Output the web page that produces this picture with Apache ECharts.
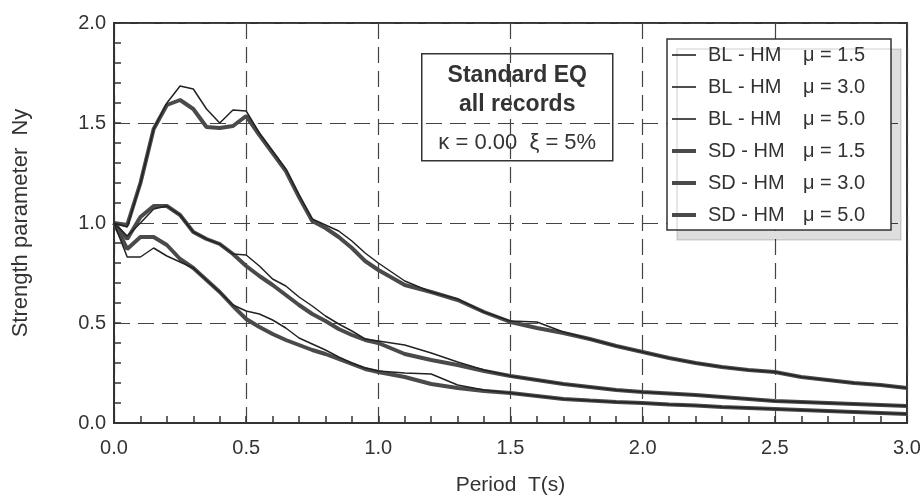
<!DOCTYPE html>
<html><head><meta charset="utf-8">
<script src="https://cdn.jsdelivr.net/npm/echarts@6/dist/echarts.min.js"></script>
<style>html,body{margin:0;padding:0;background:#fff}#c{width:923px;height:497px}</style>
</head><body><div id="c"></div><script>
// Period grid (s)
const periods = [0,0.05,0.1,0.15,0.2,0.25,0.3,0.35,0.4,0.45,0.5,0.55,0.6,0.65,0.7,0.75,0.8,0.85,0.9,0.95,1.0,
  1.1,1.2,1.3,1.4,1.5,1.6,1.7,1.8,1.9,2.0,2.1,2.2,2.3,2.4,2.5,2.6,2.7,2.8,2.9,3.0];
// BL - HM (thin lines)
const blMu15 = [1.0,0.98,1.2,1.47,1.6,1.685,1.67,1.57,1.5,1.565,1.56,1.45,1.36,1.27,1.14,1.02,0.99,0.96,0.91,0.85,0.8,
  0.71,0.655,0.62,0.555,0.51,0.505,0.455,0.42,0.385,0.355,0.325,0.3,0.28,0.265,0.255,0.23,0.215,0.2,0.19,0.175];
const blMu30 = [1.0,0.935,1.0,1.07,1.085,1.04,0.955,0.92,0.895,0.845,0.84,0.785,0.72,0.685,0.63,0.585,0.535,0.495,0.46,0.42,0.41,
  0.39,0.35,0.305,0.265,0.235,0.215,0.195,0.18,0.165,0.155,0.148,0.14,0.13,0.12,0.11,0.105,0.1,0.095,0.09,0.085];
const blMu50 = [1.0,0.83,0.83,0.875,0.835,0.805,0.775,0.715,0.655,0.59,0.56,0.545,0.515,0.475,0.425,0.395,0.365,0.33,0.3,0.275,0.26,
  0.25,0.245,0.19,0.165,0.15,0.135,0.12,0.112,0.105,0.1,0.093,0.087,0.08,0.075,0.07,0.065,0.06,0.055,0.05,0.045];
// SD - HM (thick lines)
const sdMu15 = [1.0,0.99,1.2,1.47,1.59,1.615,1.57,1.48,1.475,1.485,1.535,1.44,1.35,1.26,1.13,1.01,0.975,0.93,0.875,0.81,0.765,
  0.69,0.655,0.615,0.555,0.505,0.475,0.45,0.42,0.385,0.355,0.325,0.3,0.28,0.265,0.255,0.23,0.215,0.2,0.19,0.175];
const sdMu30 = [1.0,0.92,1.03,1.085,1.085,1.04,0.955,0.92,0.895,0.845,0.785,0.735,0.69,0.64,0.59,0.545,0.51,0.47,0.44,0.415,0.4,
  0.345,0.315,0.29,0.26,0.235,0.215,0.195,0.18,0.165,0.155,0.148,0.14,0.13,0.12,0.11,0.105,0.1,0.095,0.09,0.085];
const sdMu50 = [1.0,0.87,0.93,0.93,0.89,0.82,0.775,0.715,0.655,0.585,0.52,0.48,0.445,0.415,0.39,0.365,0.345,0.32,0.295,0.27,0.255,
  0.23,0.195,0.175,0.16,0.15,0.135,0.12,0.112,0.105,0.1,0.093,0.087,0.08,0.075,0.07,0.065,0.06,0.055,0.05,0.045];

const seriesNames = ['BL - HM|μ = 1.5','BL - HM|μ = 3.0','BL - HM|μ = 5.0','SD - HM|μ = 1.5','SD - HM|μ = 3.0','SD - HM|μ = 5.0'];
const seriesValues = [blMu15, blMu30, blMu50, sdMu15, sdMu30, sdMu50];
const xTicks = [0, 0.5, 1.0, 1.5, 2.0, 2.5, 3.0];
const yTicks = [0, 0.5, 1.0, 1.5, 2.0];

const FONT = '"Liberation Sans", Arial, sans-serif';
const THIN_ICON = 'path://M0,0M24,14M0,6.2H24V7.8H0Z';
const THICK_ICON = 'path://M0,0M24,14M0,5H24V9H0Z';
const chart = echarts.init(document.getElementById('c'), null, {renderer: 'canvas'});

const series = seriesValues.map((vals, i) => {
  const thick = i >= 3;
  const col = thick ? '#4a4a4a' : '#222';
  return {
    name: seriesNames[i],
    type: 'line',
    showSymbol: false,
    symbol: 'none',
    smooth: false,
    z: thick ? 2 : 3,
    data: periods.map((t, k) => [t, vals[k]]),
    lineStyle: thick ? {color: col, width: 4} : {color: col, width: 1.5},
    itemStyle: {color: col}
  };
});
// draw thick ones first
const ordered = series.slice(3).concat(series.slice(0, 3));

chart.setOption({
  animation: false,
  backgroundColor: '#fff',
  grid: {left: 114, right: 16, top: 23, bottom: 74, outerBoundsMode: 'none', containLabel: false,
    show: true, borderColor: '#333', borderWidth: 2, backgroundColor: 'transparent'},
  xAxis: {
    type: 'value', min: xTicks[0], max: xTicks[xTicks.length - 1], interval: 0.5,
    name: 'Period  T(s)', nameLocation: 'middle', nameGap: 52,
    nameTextStyle: {fontFamily: FONT, fontSize: 21, color: '#333'},
    axisLine: {show: true, lineStyle: {color: '#333', width: 2}},
    axisTick: {show: true, inside: true, length: 7, lineStyle: {color: '#333', width: 1.5}},
    minorTick: {show: true, splitNumber: 5, length: 7, lineStyle: {color: '#333', width: 1.5}},
    axisLabel: {fontFamily: FONT, fontSize: 20, color: '#333', margin: 15, formatter: v => v.toFixed(1)},
    splitLine: {show: true, lineStyle: {color: '#444', width: 1.2, type: [16, 8]}}
  },
  yAxis: {
    type: 'value', min: yTicks[0], max: yTicks[yTicks.length - 1], interval: 0.5,
    name: 'Strength parameter  Ny', nameLocation: 'middle', nameGap: 82,
    nameTextStyle: {fontFamily: FONT, fontSize: 22, color: '#333'},
    axisLine: {show: true, lineStyle: {color: '#333', width: 2}},
    axisTick: {show: true, inside: true, length: 7, lineStyle: {color: '#333', width: 1.5}},
    minorTick: {show: true, splitNumber: 5, length: 7, lineStyle: {color: '#333', width: 1.5}},
    axisLabel: {fontFamily: FONT, fontSize: 20, color: '#333', margin: 8, formatter: v => v.toFixed(1)},
    splitLine: {show: true, lineStyle: {color: '#444', width: 1.2, type: [16, 8]}}
  },
  legend: {
    show: true, orient: 'vertical', left: 667, top: 39,
    data: seriesNames.map((n, i) => ({name: n, icon: i >= 3 ? THICK_ICON : THIN_ICON})),
    itemWidth: 24, itemHeight: 14, itemGap: 8,
    padding: [4, 10, 3, 5],
    backgroundColor: '#fff', borderColor: '#333', borderWidth: 1.5,
    shadowColor: 'rgba(0,0,0,0.13)', shadowOffsetX: 10, shadowOffsetY: 10, shadowBlur: 0,
    formatter: n => { const p = n.split('|'); return '{a|' + p[0] + '}{b|' + p[1] + '}'; },
    textStyle: {fontFamily: FONT, fontSize: 20, color: '#333', lineHeight: 24,
      rich: {a: {fontFamily: FONT, fontSize: 20, color: '#333', width: 95, padding: [0, 0, 0, 7]},
             b: {fontFamily: FONT, fontSize: 20, color: '#333', width: 78}}}
  },
  graphic: [{
    type: 'group', left: 421, top: 53,
    children: [
      {type: 'rect', shape: {x: 0, y: 0, width: 191, height: 107}, style: {fill: '#fff', stroke: '#333', lineWidth: 1.5}},
      {type: 'text', x: 95.5, y: 22, style: {text: 'Standard EQ', font: 'bold 23px ' + FONT, fill: '#333', align: 'center', verticalAlign: 'middle'}},
      {type: 'text', x: 95.5, y: 51, style: {text: 'all records', font: 'bold 23px ' + FONT, fill: '#333', align: 'center', verticalAlign: 'middle'}},
      {type: 'text', x: 95.5, y: 89, style: {text: 'κ = 0.00  ξ = 5%', font: '22px ' + FONT, fill: '#333', align: 'center', verticalAlign: 'middle'}}
    ]
  }],
  series: ordered
});
</script></body></html>
